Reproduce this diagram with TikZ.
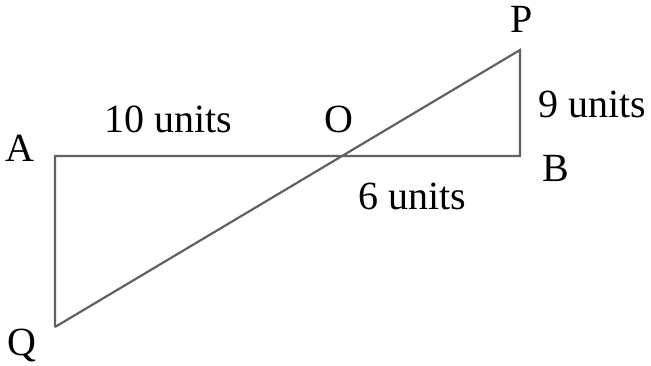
\documentclass[tikz,border=0pt]{standalone}
\usepackage{fontspec}
\setmainfont{Liberation Serif}
\begin{document}
\begin{tikzpicture}[x=1pt,y=-1pt,
  lbl/.style={anchor=base,inner sep=0pt,font=\fontsize{40}{46}\selectfont},
  seg/.style={draw=black!62,line width=2.2pt,line join=miter}]
\useasboundingbox (0,0) rectangle (651,366);
\coordinate (A) at (55,156);
\coordinate (B) at (520,156);
\coordinate (P) at (520,50);
\coordinate (Q) at (55,327);
\coordinate (O) at (341,156);
\draw[seg] (Q) -- (A) -- (B) -- (P) -- (Q);
\node[lbl] (lA) at (20,162) {A};
\node[lbl] (lB) at (556,182) {B};
\node[lbl] (lP) at (522,33) {P};
\node[lbl] (lQ) at (22,355) {Q};
\node[lbl] (lO) at (339,133) {O};
\node[lbl] (l10) at (168,133) {10 units};
\node[lbl] (l9) at (592,118) {9 units};
\node[lbl] (l6) at (412,210) {6 units};
\end{tikzpicture}
\end{document}
